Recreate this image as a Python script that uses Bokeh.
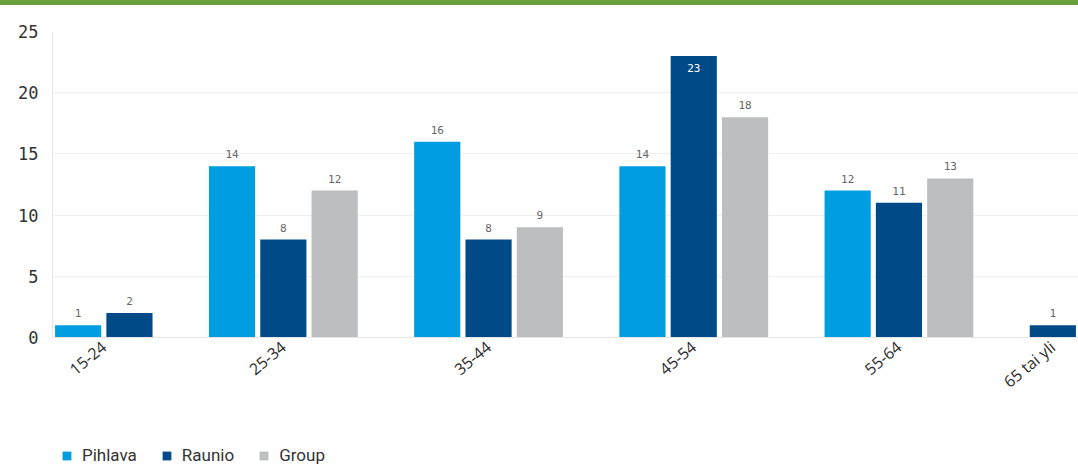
import math
from bokeh.plotting import figure
from bokeh.models import ColumnDataSource, Range1d, FixedTicker, Legend, LegendItem, Div
from bokeh.layouts import column
from bokeh.core.properties import value
from bokeh.embed import file_html
from bokeh.resources import INLINE

# ---- data ----
categories = ["15-24", "25-34", "35-44", "45-54", "55-64", "65 tai yli"]
series = ["Pihlava", "Raunio", "Group"]
pihlava = [1, 14, 16, 14, 12, None]
raunio = [2, 8, 8, 23, 11, 1]
group = [None, 12, 9, 18, 13, None]
y_ticks = [0, 5, 10, 15, 20, 25]

colors = {"Pihlava": "#009ee0", "Raunio": "#004a87", "Group": "#bcbec0"}
values = {"Pihlava": pihlava, "Raunio": raunio, "Group": group}

Y_MAX = 25
GAP = 1.0          # gap between category groups, in bar slots
BAR_W = 0.9

# dodge layout: only present bars take a slot, groups are packed
bar_x = {s: [] for s in series}
bar_v = {s: [] for s in series}
centers = []
cursor = 0.0
for i, cat in enumerate(categories):
    start = cursor
    for s in series:
        v = values[s][i]
        if v:
            bar_x[s].append(cursor + 0.5)
            bar_v[s].append(v)
            cursor += 1
    centers.append((start + cursor) / 2)
    cursor += GAP
x_end = cursor - GAP

W = 1078
TOP_BAR = 5
H_MAIN = 402
H_LEG = 468 - TOP_BAR - H_MAIN

p = figure(width=W, height=H_MAIN, output_backend="svg", toolbar_location=None,
           x_range=Range1d(0, x_end), y_range=Range1d(0, Y_MAX),
           min_border_left=52, min_border_right=0, min_border_top=26,
           min_border_bottom=70)
p.outline_line_color = None
p.background_fill_color = "white"
p.border_fill_color = "white"
p.xgrid.grid_line_color = None
p.ygrid.grid_line_color = "#efefef"
p.ygrid.ticker = FixedTicker(ticks=y_ticks)

sources = {}
out_x, out_y, out_t = [], [], []
in_x, in_y, in_t = [], [], []
for s in series:
    src = ColumnDataSource(dict(x=bar_x[s], top=bar_v[s]))
    sources[s] = src
    p.vbar(x="x", top="top", width=BAR_W, bottom=0, source=src,
           fill_color=colors[s], line_color=None)
    for x, v in zip(bar_x[s], bar_v[s]):
        if v >= 0.9 * Y_MAX:
            in_x.append(x); in_y.append(v); in_t.append(str(v))
        else:
            out_x.append(x); out_y.append(v); out_t.append(str(v))

p.text(x="x", y="y", text="t", source=ColumnDataSource(dict(x=out_x, y=out_y, t=out_t)),
       text_align="center", text_baseline="bottom", y_offset=-8,
       text_font=value("DejaVu Sans Mono"), text_font_size="11px", text_color="#666666")
p.text(x="x", y="y", text="t", source=ColumnDataSource(dict(x=in_x, y=in_y, t=in_t)),
       text_align="center", text_baseline="top", y_offset=8,
       text_font=value("DejaVu Sans Mono"), text_font_size="11px", text_color="white")

# y axis
ya = p.yaxis[0]
ya.ticker = FixedTicker(ticks=y_ticks)
ya.major_label_text_font = "DejaVu Sans Mono"
ya.major_label_text_font_size = "17px"
ya.major_label_text_color = "#333333"
ya.major_tick_in = 0
ya.major_tick_out = 0
ya.minor_tick_line_color = None
ya.major_label_standoff = 14
ya.axis_line_color = "#e6e6e6"

# x axis
xa = p.xaxis[0]
xa.ticker = FixedTicker(ticks=centers)
xa.major_label_overrides = {c: cat for c, cat in zip(centers, categories)}
xa.major_label_orientation = math.radians(40)
xa.major_label_text_font = "Open Sans"
xa.major_label_text_font_size = "16px"
xa.major_label_text_color = "#2b2b2b"
xa.major_tick_in = 0
xa.major_tick_out = 0
xa.minor_tick_line_color = None
xa.major_label_standoff = 7
xa.axis_line_color = "#e6e6e6"

# legend strip (separate figure below the chart, same series sources, hidden glyphs)
pl = figure(width=W, height=H_LEG, output_backend="svg", toolbar_location=None,
            x_range=Range1d(0, 1), y_range=Range1d(0, 1),
            x_axis_location=None, y_axis_location=None,
            min_border=0, outline_line_color=None)
pl.grid.visible = False
items = []
for s in series:
    r = pl.vbar(x="x", top="top", width=BAR_W, bottom=0, source=sources[s],
                fill_color=colors[s], line_color=None, visible=False)
    items.append(LegendItem(label=s, renderers=[r]))
legend = Legend(items=items, orientation="horizontal", location=(9, 3),
                glyph_width=11, glyph_height=11, label_height=10,
                label_standoff=10, spacing=24,
                margin=0, padding=0, border_line_color=None, background_fill_alpha=0,
                inactive_fill_alpha=0,
                label_text_font="Roboto", label_text_font_size="17px",
                label_text_color="#333333")
pl.add_layout(legend)

bar = Div(width=W, height=TOP_BAR, margin=0, styles={"background-color": "#69a03b"})
layout = column(bar, p, pl, spacing=0)

open("out.html", "w").write(file_html(layout, INLINE))
